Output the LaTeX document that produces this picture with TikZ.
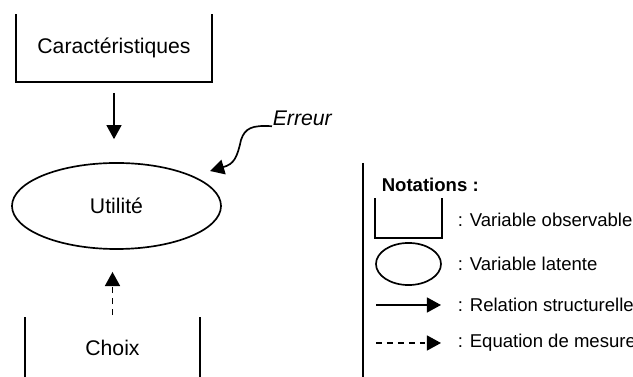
\documentclass[tikz,border=0pt]{standalone}
\usepackage{fontspec}
\setmainfont{Liberation Sans}
\usepackage{tikz}
\usetikzlibrary{arrows.meta,positioning,shapes.geometric}

\begin{document}
\begin{tikzpicture}[x=0.566pt, y=-0.566pt, line width=0.95pt, font=\fontsize{12}{14}\selectfont]
    % Styles
    \tikzstyle{openbox} = [rectangle, inner sep=0pt, text centered]
    \tikzstyle{latent} = [ellipse, draw, inner sep=0pt]
    \tikzstyle{arrow} = [-{Triangle[length=8pt, width=8.5pt]}]
    \tikzstyle{measure} = [arrow, dash pattern=on 3.2pt off 3pt]
    \tikzstyle{legend} = [anchor=west, inner sep=0pt, font=\fontsize{10.5}{12}\selectfont]

    \useasboundingbox (0,0) rectangle (633,377);

    % Nodes - model
    \node [openbox, minimum width=109.8pt, minimum height=37.4pt] (carac) at (114,48) {Caractéristiques};
    \node [latent, minimum width=118.3pt, minimum height=48.7pt] (util) at (116.5,206) {Utilité};
    \node [openbox, minimum width=97.9pt, minimum height=33.4pt] (choix) at (112.5,347.5) {Choix};
    \node [anchor=west, inner sep=0pt, font=\fontsize{12}{14}\selectfont\itshape] (err) at (272,118) {Erreur};
    \coordinate (errtip) at (210,171);

    % Open sides of the observed variables
    \draw (carac.north west) -- (carac.south west) -- (carac.south east) -- (carac.north east);
    \draw (choix.north west) -- (choix.south west) (choix.north east) -- (choix.south east);

    % Relations
    \draw[arrow, shorten <=6.2pt, shorten >=13pt] (carac.south) -- (carac.south |- util.north);
    \draw[measure, shorten <=1.2pt, shorten >=12.5pt] (choix.north) -- (choix.north |- util.south);
    \draw[arrow] (err.south west) .. controls (252,125) and (245,128) .. (241,140)
        .. controls (237,158) and (234,164) .. (errtip);

    % Legend
    \draw (363,163) -- (363,377);
    \node [legend, font=\fontsize{10.5}{12}\selectfont\bfseries] (notations) at (381,185) {Notations :};
    \node [openbox, minimum width=36.8pt, minimum height=21.5pt] (obsbox) at (408.5,218) {};
    \draw (obsbox.north west) -- (obsbox.south west) -- (obsbox.south east) -- (obsbox.north east);
    \node [latent, minimum width=36.8pt, minimum height=23.8pt] (latbox) at (408.5,264) {};
    \coordinate (solidS) at (376,305);
    \coordinate (solidE) at (441,305);
    \draw[arrow] (solidS) -- (solidE);
    \coordinate (dashS) at (376,343);
    \coordinate (dashE) at (441,343);
    \draw[measure] (dashS) -- (dashE);

    \node [legend] (obs) at (457,220) {: Variable observable};
    \node [legend] (lat) at (457,264) {: Variable latente};
    \node [legend] (struct) at (457,305) {: Relation structurelle};
    \node [legend] (mesure) at (457,343) {: Equation de mesure};
\end{tikzpicture}
\end{document}
